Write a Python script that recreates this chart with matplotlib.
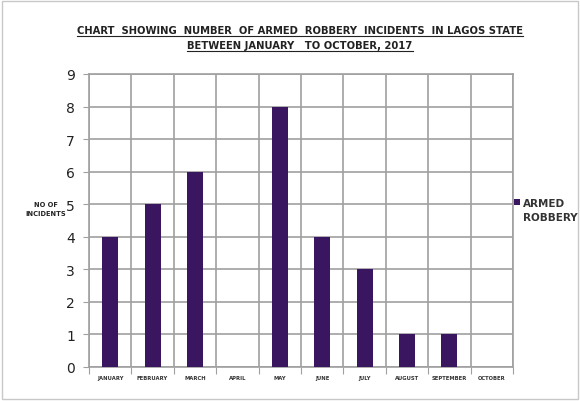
import matplotlib
matplotlib.use("Agg")
import matplotlib.pyplot as plt
from matplotlib.lines import Line2D
from matplotlib.patches import Rectangle
import numpy as np

months = ["JANUARY", "FEBRUARY", "MARCH", "APRIL", "MAY", "JUNE", "JULY",
          "AUGUST", "SEPTEMBER", "OCTOBER"]
incidents = [4, 5, 6, 0, 8, 4, 3, 1, 1, 0]
series_name = "ARMED\nROBBERY"

bar_color = "#3b1660"
grid_color = "#a0a0a0"

fig = plt.figure(figsize=(5.8, 4.02), dpi=100)
fig.patch.set_facecolor("white")
fig.patches.append(Rectangle((0.004, 0.006), 0.992, 0.988, transform=fig.transFigure,
                             fill=False, edgecolor="#c8c8c8", linewidth=1))

ax = fig.add_axes([0.1534, 0.0846, 0.731, 0.7289])
x = np.arange(len(months))
ax.bar(x, incidents, width=0.38, color=bar_color, zorder=3)
ax.set_xlim(-0.5, len(months) - 0.5)
ax.set_ylim(0, 9)
ax.set_yticks(range(0, 10))
ax.tick_params(axis="y", labelsize=10, length=4, color=grid_color, pad=6, labelcolor="#222222")
ax.set_xticks(np.arange(-0.5, len(months), 1.0))
ax.set_xticklabels([])
ax.set_xticks(x, minor=True)
ax.set_xticklabels(months, minor=True, fontsize=3.8, fontweight="bold", color="#333333")
ax.tick_params(axis="x", which="major", length=5, color=grid_color)
ax.tick_params(axis="x", which="minor", length=0, pad=6)
ax.grid(True, which="major", axis="both", color=grid_color, linewidth=1.2, zorder=0)
for s in ax.spines.values():
    s.set_color(grid_color)
    s.set_linewidth(1.2)

fig.text(46/580, 1 - 210/402, "NO OF\nINCIDENTS", fontsize=4.8, fontweight="bold",
         ha="center", va="center", color="#222222", linespacing=1.6)

# legend
fig.patches.append(Rectangle((514/580, 1 - 206/402), 6/580, 6/402, transform=fig.transFigure,
                             facecolor=bar_color, edgecolor="none"))
fig.text(523/580, 1 - 211/402, series_name, fontsize=7.5, fontweight="bold",
         ha="left", va="center", color="#333333", linespacing=1.5)

# title with underline
title_lines = ["CHART  SHOWING  NUMBER  OF ARMED  ROBBERY  INCIDENTS  IN LAGOS STATE",
               "BETWEEN JANUARY   TO OCTOBER, 2017"]
ys = [1 - 31/402, 1 - 46/402]
fig.canvas.draw()
renderer = fig.canvas.get_renderer()
for t, y in zip(title_lines, ys):
    txt = fig.text(300/580, y, t, fontsize=7.2, fontweight="bold", ha="center",
                   va="center", color="#222222")
    bb = txt.get_window_extent(renderer=renderer).transformed(fig.transFigure.inverted())
    fig.add_artist(Line2D([bb.x0, bb.x1], [bb.y0 - 0.002, bb.y0 - 0.002],
                          transform=fig.transFigure, color="#222222", linewidth=0.8))

fig.savefig("out.png", dpi=100)
